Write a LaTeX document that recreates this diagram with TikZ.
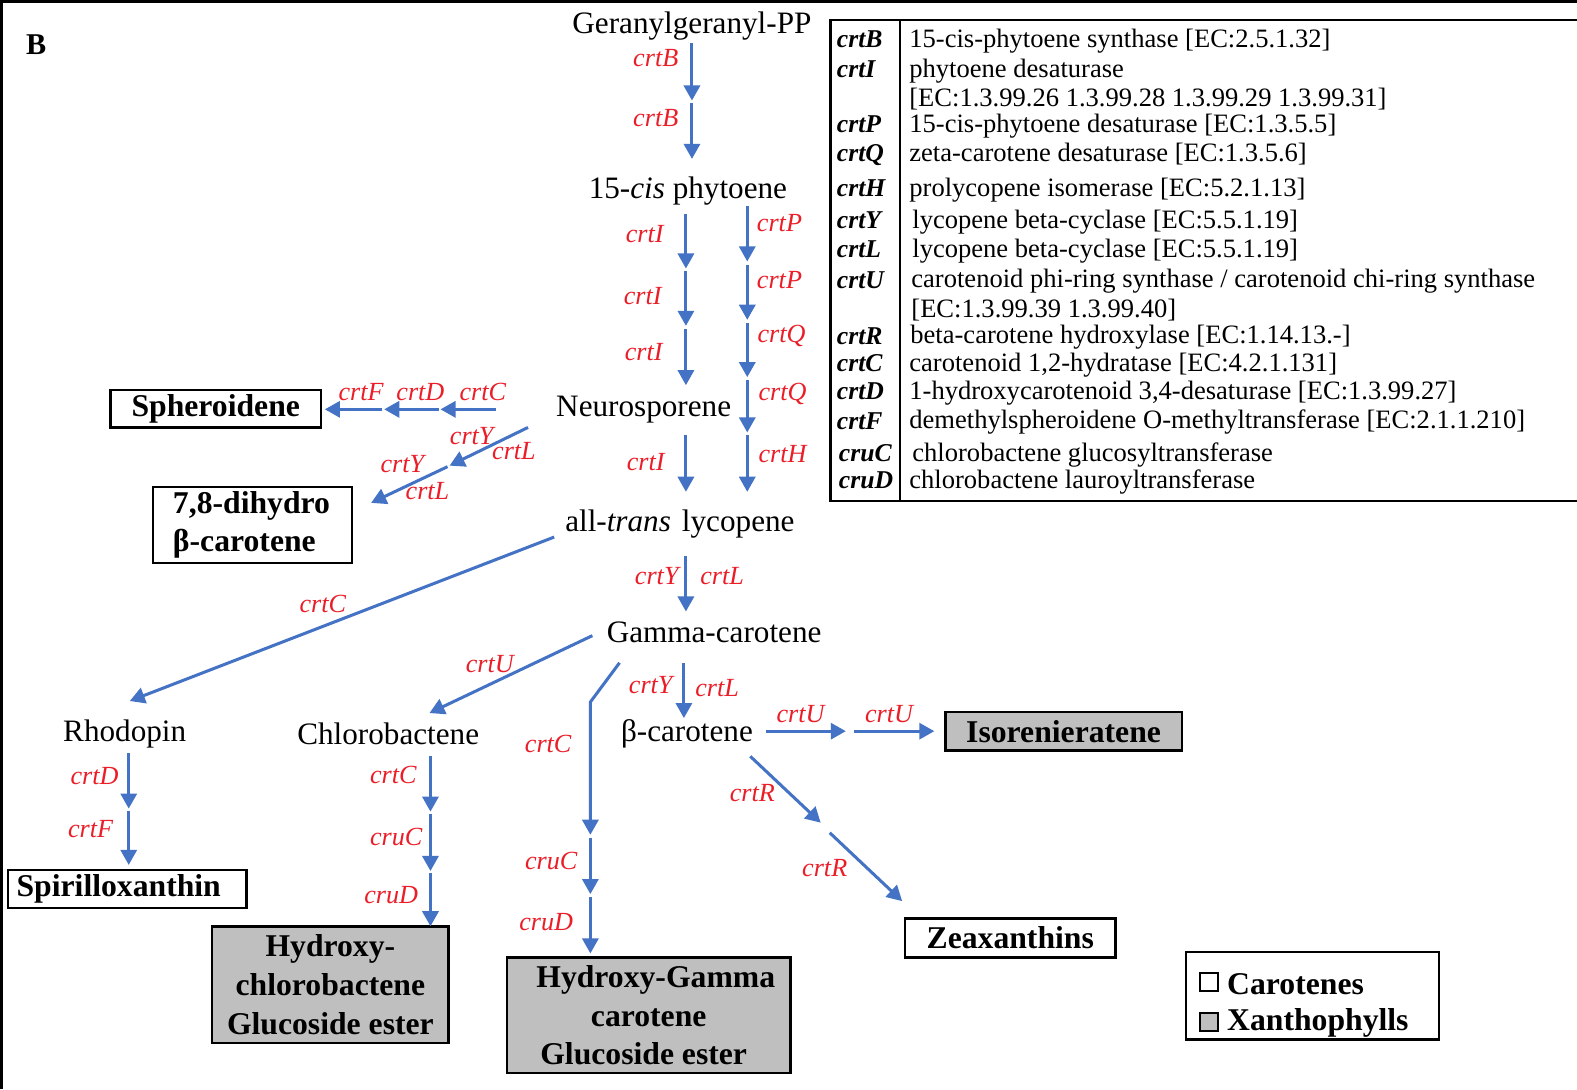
\documentclass[tikz,border=0pt]{standalone}
\usepackage{fontspec}
\setmainfont{Liberation Serif}
\usetikzlibrary{arrows.meta}
\definecolor{arrowblue}{RGB}{68,114,196}
\definecolor{genered}{RGB}{235,30,40}
\definecolor{xanthgrey}{RGB}{191,191,191}
\tikzset{
  met/.style={font=\fontsize{31}{37}\selectfont, inner sep=0pt, anchor=base},
  gene/.style={text=genered, font=\fontsize{26}{30}\selectfont\itshape, inner sep=0pt},
  prod/.style={draw=black, line width=2.5pt, font=\fontsize{31.5}{38.5}\selectfont\bfseries, align=center, inner sep=0pt},
  xanth/.style={prod, fill=xanthgrey},
  rx/.style={draw=arrowblue, line width=3pt, -{Triangle[width=16pt,length=15pt]}},
  tgene/.style={font=\fontsize{25.5}{30}\selectfont\bfseries\itshape, inner sep=0pt, anchor=base west},
  tdesc/.style={font=\fontsize{26.4}{30}\selectfont, inner sep=0pt, anchor=base west},
  legtext/.style={font=\fontsize{31.5}{38}\selectfont\bfseries, inner sep=0pt, anchor=base west},
}
\begin{document}
\begin{tikzpicture}[x=1pt,y=-1pt]
\useasboundingbox (0,0) rectangle (1568,1083);
\fill[white] (0,0) rectangle (1568,1083);
% frame
\draw[line width=3pt] (1.5,1083) -- (1.5,1.5) -- (1568,1.5);
\node[font=\fontsize{30}{36}\selectfont\bfseries, inner sep=0pt] (lblB) at (36,44) {B};

% metabolites
\node[met] (ggpp) at (688,33) {Geranylgeranyl-PP};
\node[met] (phy) at (684,197) {15-\textit{cis} phytoene};
\node[met] (neu) at (640,414) {Neurosporene};
\node[met] (lyc) at (676,528) {all-\textit{trans}\hspace{11pt}lycopene};
\node[met] (gam) at (710,639) {Gamma-carotene};
\node[met] (bcar) at (683,737) {β-carotene};
\node[met] (rho) at (124,737) {Rhodopin};
\node[met] (chl) at (386,740) {Chlorobactene};

% end products
\node[prod, minimum width=209, minimum height=37] (sph) at (214.5,406.5) {Spheroidene};
\node[prod, minimum width=198, minimum height=76, text width=158, align=left] (dih) at (251,522) {7,8-dihydro\\β-carotene};
\node[prod, minimum width=237, minimum height=38, text width=220, align=left] (spi) at (126.5,884) {Spirilloxanthin};
\node[prod, minimum width=209, minimum height=39] (zea) at (1004.5,932.5) {Zeaxanthins};
\node[xanth, minimum width=235, minimum height=38] (iso) at (1057.5,727) {Isorenieratene};
\node[xanth, minimum width=235, minimum height=116] (hcg) at (328.5,979) {Hydroxy-\\chlorobactene\\Glucoside ester};
\node[xanth, minimum width=282, minimum height=115] (hgg) at (645,1009.5) {\hspace*{14pt}Hydroxy-Gamma\\carotene\\Glucoside ester\hspace*{10pt}};

% legend
\node[draw, line width=2.5pt, minimum width=252, minimum height=87, inner sep=0pt] (leg) at (1305,990) {};
\node[draw, line width=2pt, minimum size=18, inner sep=0pt] (sqc) at (1202,976) {};
\node[draw, fill=xanthgrey, line width=2pt, minimum size=18, inner sep=0pt] (sqx) at (1202,1016) {};
\node[legtext] (lc) at (1220,989) {Carotenes};
\node[legtext] (lx) at (1220,1025) {Xanthophylls};

% table
\draw[line width=2.5pt] (826,20) rectangle (1580,498);
\draw[line width=2.5pt] (895,20) -- (895,498);
\node[tgene] (tB) at (832,47) {crtB};
\node[tgene] (tI) at (832,77) {crtI};
\node[tgene] (tP) at (832,132) {crtP};
\node[tgene] (tQ) at (832,161) {crtQ};
\node[tgene] (tH) at (832,195) {crtH};
\node[tgene] (tY) at (832,227) {crtY};
\node[tgene] (tL) at (832,256) {crtL};
\node[tgene] (tU) at (832,287) {crtU};
\node[tgene] (tR) at (832,343) {crtR};
\node[tgene] (tC) at (832,369) {crtC};
\node[tgene] (tD) at (832,397) {crtD};
\node[tgene] (tF) at (832,427) {crtF};
\node[tgene] (tcC) at (834,459) {cruC};
\node[tgene] (tcD) at (834,486) {cruD};

\node[tdesc] (dB) at (904,47) {15-cis-phytoene synthase [EC:2.5.1.32]};
\node[tdesc] (dI) at (904,77) {phytoene desaturase};
\node[tdesc] (dI2) at (904,106) {[EC:1.3.99.26 1.3.99.28 1.3.99.29 1.3.99.31]};
\node[tdesc] (dP) at (904,132) {15-cis-phytoene desaturase [EC:1.3.5.5]};
\node[tdesc] (dQ) at (904,161) {zeta-carotene desaturase [EC:1.3.5.6]};
\node[tdesc] (dH) at (904,195) {prolycopene isomerase [EC:5.2.1.13]};
\node[tdesc] (dY) at (907,227) {lycopene beta-cyclase [EC:5.5.1.19]};
\node[tdesc] (dL) at (907,256) {lycopene beta-cyclase [EC:5.5.1.19]};
\node[tdesc] (dU) at (906,286) {carotenoid phi-ring synthase / carotenoid chi-ring synthase};
\node[tdesc] (dU2) at (906,316) {[EC:1.3.99.39 1.3.99.40]};
\node[tdesc] (dR) at (905,342) {beta-carotene hydroxylase [EC:1.14.13.-]};
\node[tdesc] (dC) at (904,369) {carotenoid 1,2-hydratase [EC:4.2.1.131]};
\node[tdesc] (dD) at (904,397) {1-hydroxycarotenoid 3,4-desaturase [EC:1.3.99.27]};
\node[tdesc] (dF) at (904,426) {demethylspheroidene O-methyltransferase [EC:2.1.1.210]};
\node[tdesc] (dcC) at (907,459) {chlorobactene glucosyltransferase};
\node[tdesc] (dcD) at (904,486) {chlorobactene lauroyltransferase};

% arrow end points
\coordinate (b0) at (688,43);  \coordinate (b1) at (688,100);
\coordinate (b1s) at (688,102); \coordinate (b2) at (688,158);
\coordinate (i0) at (682,213); \coordinate (i1) at (682,267);
\coordinate (i1s) at (682,269); \coordinate (i2) at (682,324);
\coordinate (i2s) at (682,327); \coordinate (i3) at (682,383);
\coordinate (i4s) at (682,433); \coordinate (i4) at (682,489);
\coordinate (p0) at (743,205); \coordinate (p1) at (743,260);
\coordinate (p1s) at (743,263); \coordinate (p2) at (743,318);
\coordinate (p2s) at (743,321); \coordinate (p3) at (743,375);
\coordinate (p3s) at (743,378); \coordinate (p4) at (743,430);
\coordinate (p4s) at (743,433); \coordinate (p5) at (743,489);
\coordinate (s0) at (493,407); \coordinate (s1) at (438,407);
\coordinate (s1s) at (436,407); \coordinate (s2) at (382,407);
\coordinate (s2s) at (380,407); \coordinate (s3) at (323,407);
\coordinate (d0) at (525,425); \coordinate (d1) at (447,463);
\coordinate (d1s) at (445,464); \coordinate (d2) at (369,500);
\coordinate (r0) at (551,534); \coordinate (r1) at (129,697);
\coordinate (g0) at (682,553); \coordinate (g1) at (682,608);
\coordinate (c0) at (589,632); \coordinate (c1) at (427,709);
\coordinate (h0) at (616,659); \coordinate (hb) at (587,698); \coordinate (h1) at (587,830);
\coordinate (h1s) at (587,833); \coordinate (h2) at (587,889);
\coordinate (h2s) at (587,892); \coordinate (h3) at (587,948);
\coordinate (y0) at (680,659); \coordinate (y1) at (680,714);
\coordinate (u0) at (762,727); \coordinate (u1) at (841,727);
\coordinate (u1s) at (849,727); \coordinate (u2) at (929,727);
\coordinate (z0) at (746,752); \coordinate (z1) at (816,818);
\coordinate (z1s) at (825,828); \coordinate (z2) at (897,896);
\coordinate (o0) at (128,749); \coordinate (o1) at (128,804);
\coordinate (o1s) at (128,806); \coordinate (o2) at (128,860);
\coordinate (k0) at (428,752); \coordinate (k1) at (428,807);
\coordinate (k1s) at (428,809); \coordinate (k2) at (428,866);
\coordinate (k2s) at (428,868); \coordinate (k3) at (428,921);

% arrows
\draw[rx] (b0) -- (b1);  \draw[rx] (b1s) -- (b2);
\draw[rx] (i0) -- (i1);  \draw[rx] (i1s) -- (i2);  \draw[rx] (i2s) -- (i3);  \draw[rx] (i4s) -- (i4);
\draw[rx] (p0) -- (p1);  \draw[rx] (p1s) -- (p2);  \draw[rx] (p2s) -- (p3);  \draw[rx] (p3s) -- (p4);  \draw[rx] (p4s) -- (p5);
\draw[rx] (s0) -- (s1);  \draw[rx] (s1s) -- (s2);  \draw[rx] (s2s) -- (s3);
\draw[rx] (d0) -- (d1);  \draw[rx] (d1s) -- (d2);
\draw[rx] (r0) -- (r1);
\draw[rx] (g0) -- (g1);
\draw[rx] (c0) -- (c1);
\draw[rx] (h0) -- (hb) -- (h1);  \draw[rx] (h1s) -- (h2);  \draw[rx] (h2s) -- (h3);
\draw[rx] (y0) -- (y1);
\draw[rx] (u0) -- (u1);  \draw[rx] (u1s) -- (u2);
\draw[rx] (z0) -- (z1);  \draw[rx] (z1s) -- (z2);
\draw[rx] (o0) -- (o1);  \draw[rx] (o1s) -- (o2);
\draw[rx] (k0) -- (k1);  \draw[rx] (k1s) -- (k2);  \draw[rx] (k2s) -- (k3);

% gene labels
\node[gene] (lb1) at (652,58) {crtB};
\node[gene] (lb2) at (652,117) {crtB};
\node[gene] (li1) at (641,233) {crtI};
\node[gene] (li2) at (639,294) {crtI};
\node[gene] (li3) at (640,350) {crtI};
\node[gene] (li4) at (642,459) {crtI};
\node[gene] (lp1) at (775,222) {crtP};
\node[gene] (lp2) at (775,278) {crtP};
\node[gene] (lq1) at (777,334) {crtQ};
\node[gene] (lq2) at (778,392) {crtQ};
\node[gene] (lh1) at (778,451) {crtH};
\node[gene] (lsF) at (359,390) {crtF};
\node[gene] (lsD) at (418,390) {crtD};
\node[gene] (lsC) at (480,390) {crtC};
\node[gene] (ldY1) at (469,434) {crtY};
\node[gene] (ldL1) at (511,448) {crtL};
\node[gene] (ldY2) at (400,461) {crtY};
\node[gene] (ldL2) at (425,488) {crtL};
\node[gene] (lrC) at (321,601) {crtC};
\node[gene] (lgY) at (653,573) {crtY};
\node[gene] (lgL) at (718,573) {crtL};
\node[gene] (lcU) at (487,660) {crtU};
\node[gene] (lhC) at (545,740) {crtC};
\node[gene] (lhcC) at (548,856) {cruC};
\node[gene] (lhcD) at (543,917) {cruD};
\node[gene] (lyY) at (647,681) {crtY};
\node[gene] (lyL) at (713,684) {crtL};
\node[gene] (lu1) at (796,710) {crtU};
\node[gene] (lu2) at (884,710) {crtU};
\node[gene] (lz1) at (748,789) {crtR};
\node[gene] (lz2) at (820,863) {crtR};
\node[gene] (loD) at (94,772) {crtD};
\node[gene] (loF) at (90,824) {crtF};
\node[gene] (lkC) at (391,771) {crtC};
\node[gene] (lkcC) at (394,832) {cruC};
\node[gene] (lkcD) at (389,890) {cruD};
\end{tikzpicture}
\end{document}
